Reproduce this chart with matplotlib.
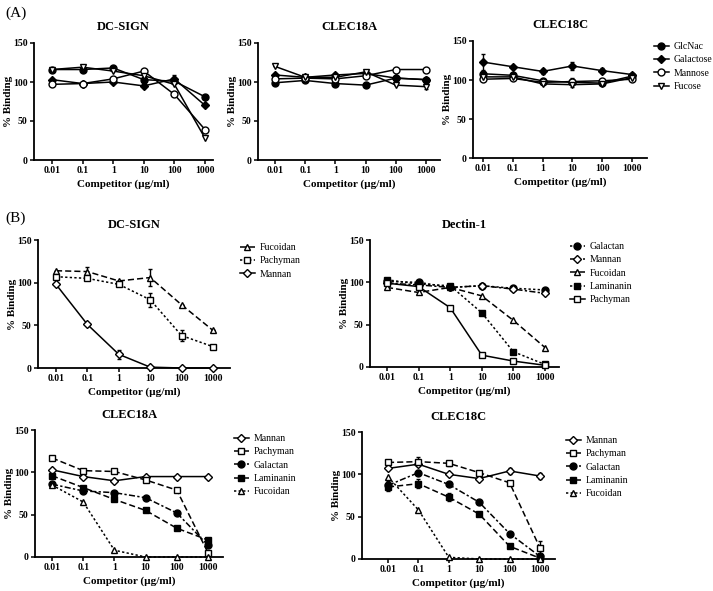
import numpy as np
import matplotlib
matplotlib.use("Agg")
import matplotlib.pyplot as plt

plt.rcParams['font.family'] = ['Liberation Serif', 'DejaVu Serif']

W, H = 713, 591

conc = [0.01, 0.1, 1, 10, 100, 1000]
conc_labels = ["0.01", "0.1", "1", "10", "100", "1000"]

# Panel A: monosaccharide competitors
a_dcsign = {
    "GlcNac": [116, 116, 118, 103, 101, 81],
    "Galactose": [103, 98, 100, 95, 104, 70],
    "Mannose": [97, 98, 104, 114, 84, 39],
    "Fucose": [116, 119, 114, 108, 97, 28],
}
a_dcsign_err = {"Galactose": [0, 0, 0, 0, 5, 0]}
a_clec18a = {
    "GlcNac": [99, 102, 98, 96, 105, 103],
    "Galactose": [109, 106, 109, 111, 105, 103],
    "Mannose": [104, 105, 104, 108, 116, 116],
    "Fucose": [120, 106, 106, 113, 96, 94],
}
a_clec18a_err = {"Galactose": [0, 0, 3, 5, 0, 0], "Fucose": [0, 0, 0, 0, 0, 3]}
a_clec18c = {
    "GlcNac": [108, 106, 99, 97, 96, 105],
    "Galactose": [123, 117, 111, 118, 112, 107],
    "Mannose": [101, 102, 97, 98, 99, 101],
    "Fucose": [104, 104, 95, 94, 95, 103],
}
a_clec18c_err = {"Galactose": [10, 0, 3, 5, 3, 2], "GlcNac": [0, 0, 0, 6, 0, 0]}

# Panel B: polysaccharide competitors
b_dcsign = {
    "Fucoidan": [114, 113, 102, 106, 74, 44],
    "Pachyman": [107, 105, 98, 80, 38, 25],
    "Mannan": [98, 51, 16, 1, 0, 0],
}
b_dcsign_err = {"Fucoidan": [0, 5, 0, 10, 0, 0], "Pachyman": [0, 0, 0, 8, 6, 0],
                "Mannan": [0, 0, 5, 0, 0, 0]}
b_dectin = {
    "Galactan": [101, 100, 94, 96, 93, 91],
    "Mannan": [99, 97, 94, 96, 92, 87],
    "Fucoidan": [94, 88, 94, 84, 55, 23],
    "Laminanin": [103, 98, 96, 64, 18, 3],
    "Pachyman": [99, 95, 70, 14, 7, 2],
}
b_clec18a = {
    "Mannan": [103, 95, 90, 95, 95, 95],
    "Pachyman": [117, 102, 101, 91, 79, 5],
    "Galactan": [86, 78, 76, 70, 52, 14],
    "Laminanin": [96, 82, 68, 55, 34, 20],
    "Fucoidan": [85, 65, 8, 0, 0, 0],
}
b_clec18c = {
    "Mannan": [107, 112, 100, 95, 104, 98],
    "Pachyman": [114, 115, 113, 102, 90, 13],
    "Galactan": [87, 102, 88, 67, 30, 3],
    "Laminanin": [85, 89, 73, 53, 15, 1],
    "Fucoidan": [97, 58, 2, 0, 0, 0],
}
b_clec18c_err = {"Galactan": [5, 3, 0, 0, 0, 0], "Laminanin": [5, 5, 5, 0, 0, 0],
                 "Mannan": [0, 0, 0, 0, 4, 4], "Pachyman": [0, 5, 3, 0, 0, 8]}

# marker / line style for each competitor
a_style = {
    "GlcNac": dict(marker="o", mfc="black", ls="-"),
    "Galactose": dict(marker="D", mfc="black", ls="-", ms=4),
    "Mannose": dict(marker="o", mfc="white", ls="-"),
    "Fucose": dict(marker="v", mfc="white", ls="-"),
}
b_style_dc = {
    "Fucoidan": dict(marker="^", mfc="white", ls=(0, (4, 2))),
    "Pachyman": dict(marker="s", mfc="white", ls=(0, (1.5, 1.5))),
    "Mannan": dict(marker="D", mfc="white", ls="-", ms=4.5),
}
b_style_dectin = {
    "Galactan": dict(marker="o", mfc="black", ls=(0, (1.5, 1.5))),
    "Mannan": dict(marker="D", mfc="white", ls=(0, (4, 1.5, 1.5, 1.5)), ms=4.5),
    "Fucoidan": dict(marker="^", mfc="white", ls=(0, (4, 2))),
    "Laminanin": dict(marker="s", mfc="black", ls=(0, (1.5, 1.5))),
    "Pachyman": dict(marker="s", mfc="white", ls="-"),
}
b_style_clec = {
    "Mannan": dict(marker="D", mfc="white", ls="-", ms=4.5),
    "Pachyman": dict(marker="s", mfc="white", ls=(0, (4, 2))),
    "Galactan": dict(marker="o", mfc="black", ls=(0, (4, 1.5, 1.5, 1.5))),
    "Laminanin": dict(marker="s", mfc="black", ls=(0, (4, 2))),
    "Fucoidan": dict(marker="^", mfc="white", ls=(0, (1.5, 1.5))),
}


def make_axes(fig, left, right, top, bottom):
    # pixel box -> figure fraction
    return fig.add_axes([left / W, 1 - bottom / H, (right - left) / W, (bottom - top) / H])


def draw_panel(ax, box, data, styles, errs, title, tick0, tick5):
    for name, vals in data.items():
        st = dict(styles[name])
        ms = st.pop("ms", 5)
        if errs and name in errs:
            ax.errorbar(conc, vals, yerr=errs[name], fmt="none", ecolor="black",
                        capsize=1.5, elinewidth=1.0, clip_on=False, zorder=2)
        ax.plot(conc, vals, color="black", mec="black", ms=ms, lw=1.1, mew=1.0,
                clip_on=False, label=name, zorder=3, **st)
    ax.set_xscale("log")
    # place 0.01 and 1000 ticks where they sit in the reference
    span = (tick5 - tick0) / 5.0
    x_left = -2 - (tick0 - box[0]) / span
    x_right = 3 + (box[1] - tick5) / span
    ax.set_xlim(10 ** x_left, 10 ** x_right)
    ax.set_ylim(0, 150)
    ax.set_xticks(conc)
    ax.set_xticklabels(conc_labels)
    ax.minorticks_off()
    ax.set_yticks([0, 50, 100, 150])
    for s in ["top", "right"]:
        ax.spines[s].set_visible(False)
    for s in ["left", "bottom"]:
        ax.spines[s].set_linewidth(1.3)
    ax.tick_params(direction="out", length=3, width=1.1, labelsize=7, pad=1.5)
    for lab in ax.get_xticklabels() + ax.get_yticklabels():
        lab.set_fontweight("bold")
    ax.set_title(title, fontsize=9, fontweight="bold", pad=9)
    ax.set_xlabel("Competitor (µg/ml)", fontsize=8, fontweight="bold", labelpad=3)
    ax.set_ylabel("% Binding", fontsize=8, fontweight="bold", labelpad=0)


def add_legend(fig, ax, x, y):
    h, l = ax.get_legend_handles_labels()
    fig.legend(h, l, loc="upper left", bbox_to_anchor=(x / W, 1 - y / H),
               frameon=False, fontsize=7, handlelength=1.5, handletextpad=0.5,
               labelspacing=0.45, borderaxespad=0, borderpad=0)


fig = plt.figure(figsize=(W / 100, H / 100), dpi=100)

fig.text(5 / W, 1 - 17 / H, "(A)", fontsize=11)
fig.text(5 / W, 1 - 222 / H, "(B)", fontsize=11)

panels = [
    ((34, 213, 43, 160), a_dcsign, a_style, a_dcsign_err, "DC-SIGN", 52, 205, None),
    ((258, 440, 43, 160), a_clec18a, a_style, a_clec18a_err, "CLEC18A", 275, 426, None),
    ((473, 647, 41, 158), a_clec18c, a_style, a_clec18c_err, "CLEC18C", 483, 632, (654, 42)),
    ((38, 230, 240, 368), b_dcsign, b_style_dc, b_dcsign_err, "DC-SIGN", 56, 213, (240, 243)),
    ((370, 559, 240, 367), b_dectin, b_style_dectin, None, "Dectin-1", 387, 545, (570, 242)),
    ((35, 223, 430, 557), b_clec18a, b_style_clec, None, "CLEC18A", 52, 208, (234, 434)),
    ((362, 555, 432, 559), b_clec18c, b_style_clec, b_clec18c_err, "CLEC18C", 388, 540, (566, 436)),
]

for box, data, styles, errs, title, t0, t5, leg in panels:
    ax = make_axes(fig, *box)
    draw_panel(ax, box, data, styles, errs, title, t0, t5)
    if leg is not None:
        add_legend(fig, ax, *leg)

fig.savefig("out.png", dpi=100)
